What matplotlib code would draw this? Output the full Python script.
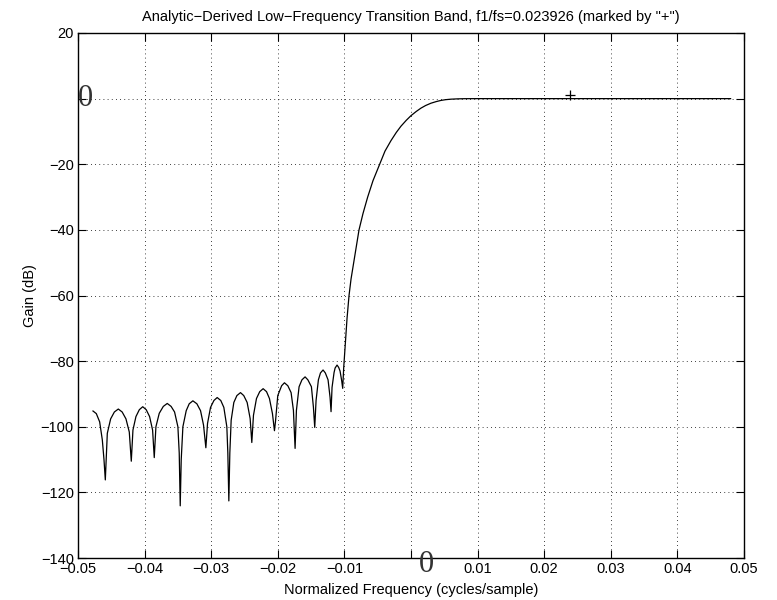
import numpy as np
import matplotlib.pyplot as plt

plt.rcParams['font.family'] = ['Liberation Sans', 'DejaVu Sans']

# frequency response (normalized freq, gain in dB)
freq = [
    -0.04775, -0.04725, -0.04675, -0.04635, -0.0461, -0.0459,
    -0.04560, -0.04510, -0.04454, -0.04395, -0.04337, -0.04280, -0.04230, -0.0420,
    -0.04175, -0.04130, -0.04079, -0.04028, -0.03976, -0.03925, -0.03880, -0.03855,
    -0.03830, -0.03780, -0.03719, -0.0366, -0.03602, -0.0355, -0.0350, -0.03480, -0.03465,
    -0.03450, -0.03425, -0.03375, -0.03330, -0.03275, -0.03215, -0.03160, -0.03115, -0.0308,
    -0.03055, -0.03010, -0.02959, -0.0291, -0.02856, -0.02810, -0.02765, -0.02750, -0.02735,
    -0.02720, -0.02700, -0.02660, -0.02614, -0.0256, -0.02511, -0.02460, -0.02415, -0.0239,
    -0.02365, -0.02320, -0.02271, -0.0222, -0.02169, -0.02125, -0.0208, -0.0205,
    -0.02035, -0.0200, -0.01942, -0.0190, -0.01849, -0.0180, -0.01765, -0.0174,
    -0.01720, -0.01680, -0.01637, -0.0159, -0.01548, -0.01495, -0.01465, -0.01445,
    -0.01425, -0.01390, -0.01359, -0.0132, -0.01286, -0.01245, -0.01215, -0.0120,
    -0.01185, -0.01155, -0.01139, -0.0111, -0.01086, -0.01065, -0.01040, -0.01025,
    -0.0101, -0.0100, -0.0099, -0.0098, -0.0096, -0.0093, -0.0090, -0.0086,
    -0.0082, -0.0078, -0.0072, -0.0065, -0.0057, -0.0047, -0.0039, -0.0030,
    -0.0022, -0.0015, -0.0007, 0.0, 0.0008, 0.0015, 0.0022, 0.0030, 0.0038,
    0.0045, 0.0052, 0.0060, 0.0070, 0.0080, 0.0100, 0.0480,
]
gain_db = [
    -95.2, -96.0, -98.5, -104.0, -110.0, -116.2,
    -102.0, -97.6, -95.5, -94.6, -95.5, -97.6, -101.6, -110.5,
    -101.0, -96.9, -94.8, -93.9, -94.8, -96.9, -101.0, -109.4,
    -100.0, -95.9, -93.8, -92.9, -93.8, -95.5, -100.0, -108.0, -124.1,
    -110.0, -100.0, -95.1, -93.0, -92.1, -93.0, -95.1, -99.5, -106.4,
    -99.0, -94.1, -92.0, -91.1, -92.0, -94.1, -100.0, -108.0, -122.6,
    -108.0, -98.0, -92.6, -90.5, -89.6, -90.5, -92.6, -97.5, -104.8,
    -96.5, -91.4, -89.3, -88.4, -89.3, -91.4, -96.0, -101.2,
    -98.5, -90.5, -87.5, -86.6, -87.5, -89.6, -95.0, -106.6,
    -95.0, -87.8, -85.7, -84.8, -85.7, -87.8, -94.0, -100.2,
    -92.0, -85.7, -83.6, -82.7, -83.6, -85.7, -91.0, -95.4,
    -88.0, -83.5, -82.1, -81.2, -81.9, -83.0, -86.0, -88.3,
    -82.0, -79.0, -76.0, -73.0, -67.0, -60.0, -55.0, -50.0,
    -45.0, -40.0, -35.0, -30.0, -25.0, -20.0, -16.0, -12.8,
    -10.3, -8.4, -6.6, -5.2, -3.9, -2.9, -2.1, -1.4, -0.9,
    -0.55, -0.32, -0.17, -0.07, -0.02, 0.0, 0.0,
]

# f1/fs marker
marker_f = 0.023926
marker_db = 1.0

xticks = [-0.05, -0.04, -0.03, -0.02, -0.01, 0.0, 0.01, 0.02, 0.03, 0.04, 0.05]
xtick_labels = ['\u22120.05', '\u22120.04', '\u22120.03', '\u22120.02', '\u22120.01', '',
                '0.01', '0.02', '0.03', '0.04', '0.05']
yticks = [-140, -120, -100, -80, -60, -40, -20, 0, 20]
ytick_labels = ['\u2212140', '\u2212120', '\u2212100', '\u221280', '\u221260', '\u221240',
                '\u221220', '', '20']

fig = plt.figure(figsize=(7.77, 6.0), dpi=100)
ax = fig.add_axes([0.1004, 0.07, 0.857, 0.875])

ax.plot(freq, gain_db, color='black', lw=0.9)
ax.plot([marker_f], [marker_db], marker='+', color='black', ms=7, mew=0.9, ls='none')

ax.set_xlim(-0.05, 0.05)
ax.set_ylim(-140, 20)
ax.set_xticks(xticks)
ax.set_xticklabels(xtick_labels)
ax.set_yticks(yticks)
ax.set_yticklabels(ytick_labels)
ax.tick_params(direction='in', top=True, right=True, length=6, width=0.8,
               labelsize=10.5, pad=3)
ax.grid(True, color='black', linestyle=(0, (1, 4)), linewidth=0.6)
for s in ax.spines.values():
    s.set_linewidth(1.0)

# MATLAB drew the two zero labels big and in a serif face
ax.text(0.0, 0.875, '0', transform=ax.transAxes, ha='left', va='center',
        fontsize=22, family='Liberation Serif', color='#333333')
ax.text(0.0024, -0.013, '0', transform=ax.get_xaxis_transform(), ha='center', va='center',
        fontsize=22, family='Liberation Serif', color='#333333')

ax.set_title('Analytic\u2212Derived Low\u2212Frequency Transition Band, f1/fs=0.023926 (marked by "+")',
             fontsize=10.5, pad=9)
ax.set_xlabel('Normalized Frequency (cycles/sample)', fontsize=10.5, labelpad=5)
ax.set_ylabel('Gain (dB)', fontsize=10.5, labelpad=3)

fig.savefig('out.png', dpi=100)
